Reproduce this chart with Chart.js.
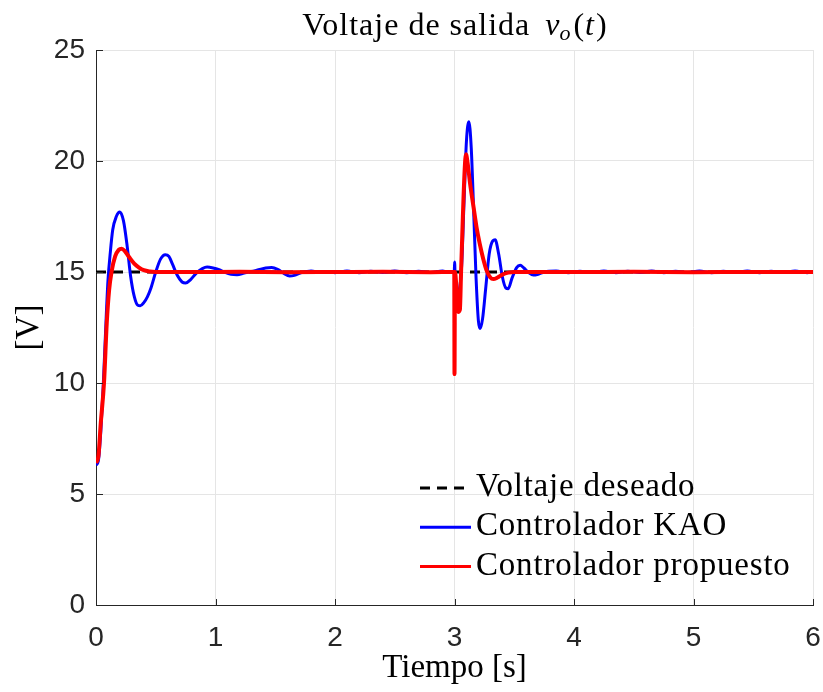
<!DOCTYPE html>
<html>
<head>
<meta charset="utf-8">
<script src="https://cdn.jsdelivr.net/npm/chart.js@4"></script>
<style>
  body { margin: 0; background: #fff; }
  #wrap { width: 823px; height: 692px; }
</style>
</head>
<body>
<div id="wrap"><canvas id="myChart" width="823" height="692"></canvas></div>
<script>
// data
const tRef = [0, 6];
const vRef = [15, 15];

const tKAO = [0, 0.02, 0.04, 0.06, 0.08, 0.10, 0.12, 0.14, 0.17, 0.20, 0.23, 0.26, 0.29, 0.32, 0.35, 0.37,
  0.40, 0.43, 0.46, 0.50, 0.54, 0.58, 0.61, 0.64, 0.68, 0.72, 0.75, 0.79, 0.84, 0.89, 0.93, 0.98,
  1.03, 1.08, 1.13, 1.18, 1.24, 1.30, 1.36, 1.42, 1.47, 1.52, 1.57, 1.62, 1.66, 1.72, 1.80, 1.88, 1.95,
  2.0, 2.1, 2.2, 2.3, 2.4, 2.5, 2.6, 2.7, 2.8, 2.9, 2.95, 2.998,
  3.001, 3.006, 3.02, 3.04, 3.06, 3.08, 3.10, 3.12, 3.14, 3.16, 3.18, 3.20, 3.215, 3.235, 3.26, 3.29,
  3.32, 3.34, 3.37, 3.40, 3.43, 3.45, 3.48, 3.52, 3.55, 3.58, 3.62, 3.66, 3.70, 3.75,
  3.85, 3.95, 4.05, 4.15, 4.25, 4.35, 4.45, 4.55, 4.65, 4.75, 4.85, 4.95, 5.05, 5.15, 5.25, 5.35,
  5.45, 5.55, 5.65, 5.75, 5.85, 5.95, 6.0];
const vKAO = [6.3, 6.5, 7.8, 9.8, 12.3, 14.6, 15.9, 16.9, 17.5, 17.7, 17.3, 16.2, 14.8, 13.9, 13.5, 13.48,
  13.62, 13.88, 14.28, 15.0, 15.58, 15.78, 15.7, 15.35, 14.85, 14.55, 14.5, 14.65, 14.95, 15.15, 15.22, 15.18,
  15.1, 14.98, 14.9, 14.88, 14.95, 15.02, 15.1, 15.18, 15.2, 15.12, 14.95, 14.82, 14.85, 14.97, 15.05, 14.98, 15.02,
  14.97, 15.04, 14.97, 15.03, 14.98, 15.05, 14.97, 15.03, 14.98, 15.04, 14.98, 15.0,
  15.45, 14.6, 14.05, 14.2, 15.3, 18.2, 20.9, 21.77, 20.6, 17.8, 14.8, 12.8, 12.45, 12.9, 14.2, 15.8,
  16.4, 16.45, 15.8, 14.8, 14.28, 14.25, 14.7, 15.2, 15.3, 15.18, 14.98, 14.86, 14.9, 15.0,
  15.04, 14.97, 15.03, 14.98, 15.04, 14.97, 15.03, 14.98, 15.04, 14.97, 15.03, 14.98, 15.04, 14.97, 15.03, 14.98,
  15.04, 14.97, 15.03, 14.98, 15.04, 14.97, 15.0];

const tProp = [0, 0.02, 0.04, 0.067, 0.09, 0.11, 0.13, 0.16, 0.19, 0.215, 0.24, 0.28, 0.32, 0.36, 0.40, 0.45,
  0.5, 0.8, 1.2, 1.6, 2.0, 2.4, 2.8, 2.998,
  3.0, 3.004, 3.015, 3.03, 3.045, 3.055, 3.07, 3.085, 3.096, 3.11, 3.13, 3.16, 3.185, 3.21, 3.24, 3.27,
  3.30, 3.325, 3.36, 3.40, 3.45, 3.5, 4.0, 4.5, 5.0, 5.5, 6.0];
const vProp = [6.4, 6.7, 8.2, 10.0, 12.7, 14.2, 15.0, 15.7, 16.0, 16.05, 15.95, 15.65, 15.38, 15.2, 15.08, 15.02,
  15.0, 15.0, 15.01, 14.99, 15.0, 15.01, 14.99, 15.0,
  10.4, 15.0, 14.4, 13.2, 13.3, 15.0, 17.5, 19.6, 20.3, 19.9, 19.0, 17.9, 17.0, 16.3, 15.6, 15.05,
  14.75, 14.68, 14.75, 14.88, 14.97, 15.0, 15.0, 15.01, 14.99, 15.0, 15.0];

function toPoints(t, v) {
  return t.map((x, i) => ({ x: x, y: v[i] }));
}

const serif = "'Liberation Serif', 'DejaVu Serif', serif";
const sans = "'Liberation Sans', Arial, sans-serif";
const axisColor = '#262626';

// title with v_o(t) drawn piece by piece
const titlePlugin = {
  id: 'mathTitle',
  afterDraw(chart) {
    const ctx = chart.ctx;
    const area = chart.chartArea;
    const parts = [
      { text: 'Voltaje de salida ', font: '32px ' + serif, dy: 0, gap: 6, ls: '1px' },
      { text: 'v', font: 'italic 32px ' + serif, dy: 0, gap: 0, ls: '0px' },
      { text: 'o', font: 'italic 22px ' + serif, dy: 5, gap: 3, ls: '0px' },
      { text: '(', font: '32px ' + serif, dy: 0, gap: 1, ls: '0px' },
      { text: 't', font: 'italic 32px ' + serif, dy: 0, gap: 2, ls: '0px' },
      { text: ')', font: '32px ' + serif, dy: 0, gap: 0, ls: '0px' }
    ];
    ctx.save();
    ctx.fillStyle = '#000';
    ctx.textBaseline = 'alphabetic';
    let total = 0;
    parts.forEach(p => {
      ctx.font = p.font;
      ctx.letterSpacing = p.ls;
      p.w = ctx.measureText(p.text).width + p.gap;
      total += p.w;
    });
    let x = (area.left + area.right) / 2 - total / 2;
    parts.forEach(p => {
      ctx.font = p.font;
      ctx.letterSpacing = p.ls;
      ctx.fillText(p.text, x, 35 + p.dy);
      x += p.w;
    });
    ctx.restore();
  }
};

// legend in the lower right, inside the axes
const legendPlugin = {
  id: 'insideLegend',
  afterDraw(chart) {
    const ctx = chart.ctx;
    const rows = [2, 0, 1];
    ctx.save();
    ctx.font = '33px ' + serif;
    ctx.letterSpacing = '0.8px';
    ctx.fillStyle = '#000';
    ctx.textBaseline = 'alphabetic';
    rows.forEach((di, i) => {
      const ds = chart.data.datasets[di];
      const lineY = 488 + i * 39.3;
      ctx.beginPath();
      ctx.strokeStyle = ds.borderColor;
      ctx.lineWidth = 3;
      ctx.setLineDash(ds.borderDash || []);
      ctx.moveTo(420, lineY);
      ctx.lineTo(471, lineY);
      ctx.stroke();
      ctx.setLineDash([]);
      ctx.fillText(ds.label, 476, lineY + 8);
    });
    ctx.restore();
  }
};

// small inward tick marks like the original axes
const innerTicks = {
  id: 'innerTicks',
  afterDraw(chart) {
    const ctx = chart.ctx;
    const a = chart.chartArea;
    const xs = chart.scales.x, ys = chart.scales.y;
    ctx.save();
    ctx.strokeStyle = axisColor;
    ctx.lineWidth = 1;
    ctx.beginPath();
    xs.ticks.forEach(tk => {
      const px = Math.round(xs.getPixelForValue(tk.value)) + 0.5;
      ctx.moveTo(px, a.bottom);
      ctx.lineTo(px, a.bottom - 6);
    });
    ys.ticks.forEach(tk => {
      const py = Math.round(ys.getPixelForValue(tk.value)) + 0.5;
      ctx.moveTo(a.left, py);
      ctx.lineTo(a.left + 7, py);
    });
    ctx.stroke();
    ctx.restore();
  }
};

const ctx = document.getElementById('myChart').getContext('2d');
const myChart = new Chart(ctx, {
  type: 'line',
  data: {
    datasets: [
      {
        label: 'Controlador KAO',
        data: toPoints(tKAO, vKAO),
        borderColor: '#0000ff',
        borderWidth: 3,
        pointRadius: 0,
        cubicInterpolationMode: 'monotone',
        order: 1
      },
      {
        label: 'Controlador propuesto',
        data: toPoints(tProp, vProp),
        borderColor: '#ff0000',
        borderWidth: 4,
        pointRadius: 0,
        cubicInterpolationMode: 'monotone',
        order: 0
      },
      {
        label: 'Voltaje deseado',
        data: toPoints(tRef, vRef),
        borderColor: '#000000',
        borderWidth: 3,
        borderDash: [10, 7],
        pointRadius: 0,
        order: 2
      }
    ]
  },
  options: {
    responsive: false,
    animation: false,
    layout: { padding: { top: 50, right: 10, left: 0, bottom: 0 } },
    plugins: {
      legend: { display: false },
      title: { display: false },
      tooltip: { enabled: false }
    },
    scales: {
      x: {
        type: 'linear',
        min: 0,
        max: 6,
        ticks: { stepSize: 1, color: axisColor, font: { family: sans, size: 28 }, padding: 16, maxRotation: 0 },
        grid: { color: '#e5e5e5', drawTicks: false },
        border: { color: axisColor, width: 1 },
        title: { display: true, text: 'Tiempo [s]', color: '#000', font: { family: serif, size: 33 }, padding: { top: 0, bottom: 4 } },
        afterFit(scale) {
          scale.height = 87;
          scale.paddingLeft = 0;
          scale.paddingRight = 0;
        }
      },
      y: {
        min: 0,
        max: 25,
        ticks: { stepSize: 5, color: axisColor, font: { family: sans, size: 28 }, padding: 11 },
        grid: { color: '#e5e5e5', drawTicks: false },
        border: { color: axisColor, width: 1 },
        title: { display: true, text: '[V]', color: '#000', font: { family: serif, size: 33 }, padding: { top: 10, bottom: 0 } },
        afterFit(scale) {
          scale.width = 96;
          scale.paddingTop = 0;
          scale.paddingBottom = 0;
        }
      }
    }
  },
  plugins: [titlePlugin, legendPlugin, innerTicks]
});
</script>
</body>
</html>
